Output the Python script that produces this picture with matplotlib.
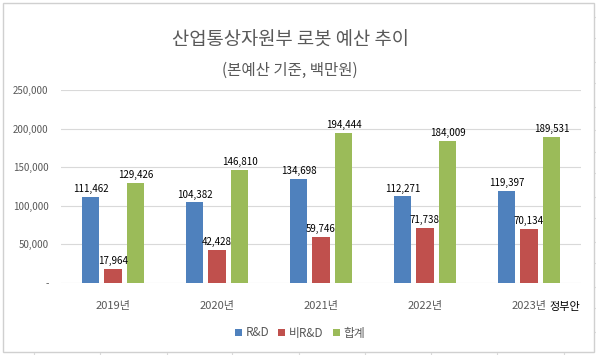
import numpy as np
import matplotlib.pyplot as plt
from matplotlib.patches import Rectangle
from matplotlib.lines import Line2D

plt.rcParams['font.family'] = ['Noto Sans CJK KR', 'DejaVu Sans']

years = ["2019년", "2020년", "2021년", "2022년", "2023년"]
rnd = [111462, 104382, 134698, 112271, 119397]
non_rnd = [17964, 42428, 59746, 71738, 70134]
total = [129426, 146810, 194444, 184009, 189531]
series_names = ["R&D", "비R&D", "합계"]
colors = ["#4F81BD", "#C0504D", "#9BBB59"]
gray = "#595959"

W, H = 596, 355
fig = plt.figure(figsize=(W / 100, H / 100), dpi=100)
ax = fig.add_axes([61 / W, 1 - 283 / H, 520 / W, 193 / H])

x = np.arange(len(years))
bw = 0.167
step = 0.217
for i, (vals, name, c) in enumerate(zip([rnd, non_rnd, total], series_names, colors)):
    pos = x + (i - 1) * step
    bars = ax.bar(pos, vals, width=bw, color=c, label=name, zorder=3)
    for b, v in zip(bars, vals):
        ax.annotate(f"{v:,}", (b.get_x() + b.get_width() / 2, v), xytext=(0, 2),
                    textcoords="offset points", ha="center", va="bottom",
                    fontsize=7, color="black", zorder=4)

ax.set_xlim(-0.5, len(years) - 0.5)
ax.set_ylim(0, 250000)
ax.set_yticks(np.arange(0, 250001, 50000))
ax.set_yticklabels(["-"] + [f"{v:,}" for v in range(50000, 250001, 50000)])
ax.set_xticks(x)
ax.set_xticklabels(years)
ax.tick_params(axis="both", length=0, colors=gray)
ax.tick_params(axis="y", labelsize=7, pad=9)
ax.tick_params(axis="x", labelsize=8, pad=13)
ax.grid(axis="y", color="#D9D9D9", linewidth=0.8, zorder=0)
for s in ax.spines.values():
    s.set_visible(False)

# suffix on the last category label
ax.annotate("정부안", (x[-1], 0), xytext=(14.5, -17.5), textcoords="offset points",
            ha="left", va="center", fontsize=8, color="black")

fig.text(290 / W, 1 - 40 / H, "산업통상자원부 로봇 예산 추이", ha="center", va="center",
         fontsize=13.5, color=gray)
fig.text(290 / W, 1 - 70 / H, "(본예산 기준, 백만원)", ha="center", va="center",
         fontsize=11.2, color=gray)

ax.legend(loc="center", bbox_to_anchor=(300 / W, 1 - 333 / H), bbox_transform=fig.transFigure,
          ncol=3, frameon=False, fontsize=8.5, handlelength=0.6, handleheight=0.6,
          handletextpad=0.3, columnspacing=0.8, labelcolor=gray)

# chart border and spreadsheet cell lines
fig.add_artist(Rectangle((3 / W, 1 - 352 / H), 591 / W, 349 / H, transform=fig.transFigure,
                         fill=False, edgecolor="#D0D0D0", linewidth=1))
for cx in [34, 100, 167, 232, 299, 365, 431, 497, 564]:
    fig.add_artist(Line2D([cx / W, cx / W], [0, 1 - 353 / H], transform=fig.transFigure,
                          color="#D9D9D9", linewidth=0.8))
for ry in [17, 38, 62, 83, 107, 130, 152, 173, 197, 218, 242, 263, 287, 308, 332]:
    fig.add_artist(Line2D([595 / W, 1], [1 - ry / H, 1 - ry / H], transform=fig.transFigure,
                          color="#D9D9D9", linewidth=0.8))

fig.savefig("out.png", dpi=100, facecolor="white")
